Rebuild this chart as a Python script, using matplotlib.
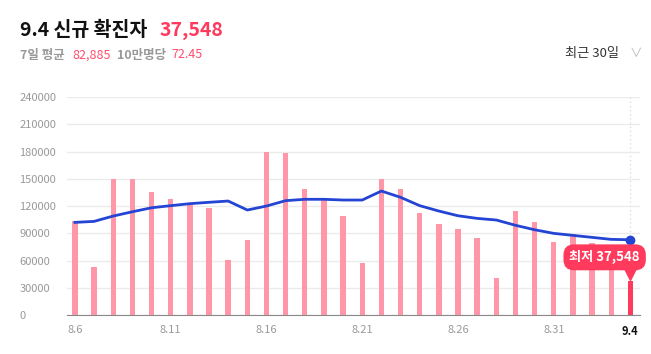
import numpy as np
import matplotlib
matplotlib.use("Agg")
import matplotlib.pyplot as plt
from matplotlib import transforms

plt.rcParams['font.family'] = ['Noto Sans CJK KR', 'DejaVu Sans']

# daily new cases, 8.6 ~ 9.4
dates = ["8.6", "8.7", "8.8", "8.9", "8.10", "8.11", "8.12", "8.13", "8.14", "8.15",
         "8.16", "8.17", "8.18", "8.19", "8.20", "8.21", "8.22", "8.23", "8.24", "8.25",
         "8.26", "8.27", "8.28", "8.29", "8.30", "8.31", "9.1", "9.2", "9.3", "9.4"]
cases = [103500, 53200, 149400, 150100, 135800, 127400, 123700, 118200, 60500, 82600,
         179800, 178000, 138400, 128500, 109400, 57600, 149400, 138400, 112000, 99800,
         94300, 84400, 41100, 114900, 102700, 80000, 89200, 78900, 76900, 37548]
avg7 = [102000, 103100, 109000, 113700, 118100, 120400, 122600, 124100, 125500, 115600,
        120000, 125900, 127400, 127400, 126600, 126600, 136500, 129600, 120400, 114500,
        109300, 106400, 104600, 98800, 93900, 89900, 87700, 85500, 83300, 82885]
tick_dates = ["8.6", "8.11", "8.16", "8.21", "8.26", "8.31", "9.4"]
yticks = [0, 30000, 60000, 90000, 120000, 150000, 180000, 210000, 240000]

pink = "#ff97a8"
red = "#ff3a5c"
blue = "#2444d4"

fig = plt.figure(figsize=(6.51, 3.54), dpi=100)
ax = fig.add_axes([0.1025, 0.110, 0.8805, 0.616])

x = np.arange(len(dates))
colors = [pink] * (len(dates) - 1) + [red]
ax.bar(x, cases, width=0.28, color=colors, zorder=2)
ax.plot(x, avg7, color=blue, lw=2, zorder=3)
ax.plot(x[-1], avg7[-1], 'o', color=blue, ms=6, zorder=4)

ax.axvline(x[-1], color="#dddddd", lw=1, ls=(0, (1, 2)), zorder=1)

ax.set_xlim(-0.43, 29.5)
ax.set_ylim(0, 240000)
ax.set_yticks(yticks)
ax.set_yticklabels([str(v) for v in yticks], ha='left')
ax.tick_params(axis='y', length=0, pad=34, labelsize=8, labelcolor="#999999")
ax.set_xticks([dates.index(d) for d in tick_dates])
ax.set_xticklabels(tick_dates)
ax.tick_params(axis='x', length=0, pad=7, labelsize=8, labelcolor="#999999")
lbl = ax.get_xticklabels()[-1]
lbl.set_color("#111111")
lbl.set_fontweight("bold")

ax.grid(axis='y', color="#ebebeb", lw=1, zorder=0)
for s in ["top", "right", "left"]:
    ax.spines[s].set_visible(False)
ax.spines["bottom"].set_color("#888888")
ax.spines["bottom"].set_zorder(5)

# tooltip for the lowest value
tip = transforms.offset_copy(ax.transData, fig=fig, x=0, y=5, units='points')
ax.plot(x[-1], cases[-1], marker='v', ms=8, color=red, transform=tip, zorder=6, clip_on=False)
ax.annotate("최저 37,548", xy=(x[-1], cases[-1]), xytext=(-18.5, 17), textcoords='offset points',
            ha='center', va='center', color='white', fontsize=9.5, fontweight='bold', zorder=7,
            bbox=dict(boxstyle="round,pad=0.45,rounding_size=0.8", fc=red, ec='none'))

# header
fig.text(20 / 651, 1 - 30 / 354, "9.4 신규 확진자", fontsize=14, fontweight='bold',
         color="#111111", va='center')
fig.text(160 / 651, 1 - 30 / 354, "37,548", fontsize=14, fontweight='bold',
         color=red, va='center')
fig.text(20 / 651, 1 - 55 / 354, "7일 평균", fontsize=9, color="#999999", va='center',
         fontweight='bold')
fig.text(72 / 651, 1 - 55 / 354, "82,885", fontsize=9, color="#ff4d6d", va='center')
fig.text(117 / 651, 1 - 55 / 354, "10만명당", fontsize=9, color="#999999", va='center',
         fontweight='bold')
fig.text(171 / 651, 1 - 55 / 354, "72.45", fontsize=9, color="#ff4d6d", va='center')
fig.text(565 / 651, 1 - 53 / 354, "최근 30일", fontsize=9.5, color="#333333", va='center')
fig.text(630 / 651, 1 - 53 / 354, "∨", fontsize=9, color="#bbbbbb", va='center')

fig.savefig("out.png", dpi=100)
